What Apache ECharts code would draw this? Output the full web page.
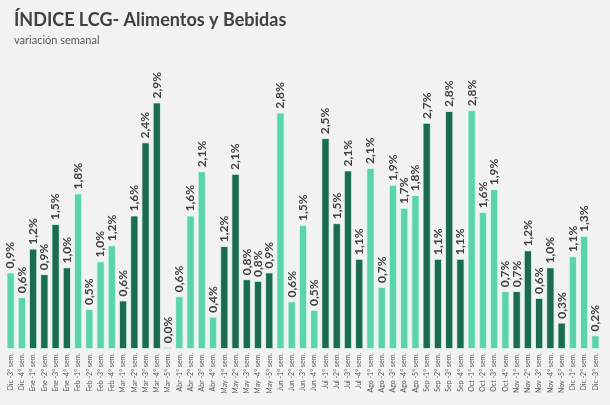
<!DOCTYPE html>
<html>
<head>
<meta charset="utf-8">
<script src="https://cdn.jsdelivr.net/npm/echarts@6/dist/echarts.min.js"></script>
<style>
html,body{margin:0;padding:0;background:#f2f2f2;}
#c{width:610px;height:405px;}
</style>
</head>
<body>
<div id="c"></div>
<script>
const categories = [
  'Dic -3° sem.','Dic -4° sem.',
  'Ene -1° sem.','Ene -2° sem.','Ene -3° sem.','Ene -4° sem.',
  'Feb -1° sem.','Feb -2° sem.','Feb -3° sem.','Feb -4° sem.',
  'Mar -1° sem.','Mar -2° sem.','Mar -3° sem.','Mar -4° sem.','Mar -5° sem.',
  'Abr -1° sem.','Abr -2° sem.','Abr -3° sem.','Abr -4° sem.',
  'May -1° sem.','May -2° sem.','May -3° sem.','May -4° sem.','May -5° sem.',
  'Jun -1° sem.','Jun -2° sem.','Jun -3° sem.','Jun -4° sem.',
  'Jul -1° sem.','Jul -2° sem.','Jul -3° sem.','Jul -4° sem.',
  'Ago -1° sem.','Ago -2° sem.','Ago -3° sem.','Ago -4° sem.','Ago -5° sem.',
  'Sep -1° sem.','Sep -2° sem.','Sep -3° sem.','Sep -4° sem.',
  'Oct -1° sem.','Oct -2° sem.','Oct -3° sem.','Oct -4° sem.',
  'Nov -1° sem.','Nov -2° sem.','Nov -3° sem.','Nov -4° sem.','Nov -5° sem.',
  'Dic -1° sem.','Dic -2° sem.','Dic -3° sem.'
];
const values = [
  0.90,0.61,
  1.18,0.88,1.47,0.96,
  1.83,0.47,1.03,1.22,
  0.57,1.57,2.43,2.90,0.02,
  0.62,1.57,2.09,0.38,
  1.21,2.06,0.82,0.80,0.90,
  2.78,0.56,1.46,0.46,
  2.48,1.48,2.10,1.06,
  2.13,0.73,1.93,1.66,1.81,
  2.66,1.06,2.80,1.06,
  2.81,1.61,1.88,0.68,
  0.68,1.16,0.60,0.96,0.31,
  1.09,1.33,0.16
];
const darkMonths = ['Ene','Mar','May','Jul','Sep','Nov'];
const titleText = 'ÍNDICE LCG- Alimentos y Bebidas';
const subtitleText = 'variación semanal';

const LIGHT = '#5cd4ab';
const DARK = '#1b6b50';

const chart = echarts.init(document.getElementById('c'));
chart.setOption({
  backgroundColor: '#f2f2f2',
  animation: false,
  title: {
    text: titleText,
    subtext: subtitleText,
    left: 9, top: 6,
    itemGap: 6,
    textStyle: {fontFamily: 'Lato', fontSize: 18, fontWeight: 'bold', color: '#404040'},
    subtextStyle: {fontFamily: 'Lato', fontSize: 11, color: '#595959'}
  },
  grid: {left: 5, right: 9, top: 94, bottom: 56, containLabel: false},
  xAxis: {
    type: 'category',
    data: categories,
    boundaryGap: true,
    axisLine: {show: false},
    axisTick: {show: false},
    axisLabel: {interval: 0, rotate: 90, fontSize: 7, color: '#595959', margin: 4, fontFamily: 'Lato'}
  },
  yAxis: {
    type: 'value', min: 0, max: 3,
    show: false,
    splitLine: {show: false}
  },
  series: [{
    type: 'bar',
    barCategoryGap: '28%',
    data: values.map((v, i) => ({
      value: v,
      itemStyle: {color: darkMonths.includes(categories[i].slice(0,3)) ? DARK : LIGHT}
    })),
    itemStyle: {borderColor: '#e4fbf2', borderWidth: 0.8},
    label: {
      show: true,
      position: 'top',
      rotate: 90,
      align: 'left',
      verticalAlign: 'middle',
      distance: 4,
      fontFamily: 'Lato',
      fontSize: 12,
      fontWeight: 'bold',
      color: '#404040',
      formatter: p => p.value.toFixed(1).replace('.', ',') + '%'
    }
  }]
});
</script>
</body>
</html>
